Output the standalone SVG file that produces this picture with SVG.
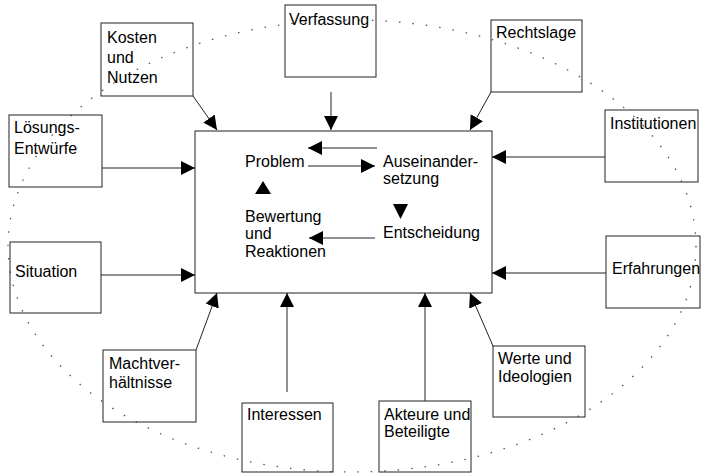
<svg xmlns="http://www.w3.org/2000/svg" width="702" height="475" viewBox="0 0 702 475">
<style>
text{font-family:"Liberation Sans",Arial,Helvetica,sans-serif;font-size:16px;fill:#000}
.box{fill:none;stroke:#222;stroke-width:1}
.c{fill:none;stroke:#222;stroke-width:1}
.ell{fill:none;stroke:#555;stroke-width:1.3;stroke-dasharray:1.5 12}
.tri{fill:#000}
</style>
<defs>
<marker id="ah" markerUnits="userSpaceOnUse" markerWidth="15" markerHeight="15" refX="14" refY="7" orient="auto">
<path d="M0,0 L14,7 L0,14 z" fill="#000"/>
</marker>
</defs>
<rect width="702" height="475" fill="#fff"/>
<ellipse class="ell" cx="352" cy="246" rx="344" ry="226"/>

<g id="zentrum">
<rect class="box" x="195" y="131" width="297" height="162"/>
<text x="245" y="167">Problem</text>
<text x="383" y="167">Auseinander-</text>
<text x="383" y="184">setzung</text>
<text x="245" y="222">Bewertung</text>
<text x="245" y="239">und</text>
<text x="245" y="257">Reaktionen</text>
<text x="383" y="238">Entscheidung</text>
</g>

<g id="kosten">
<rect class="box" x="101" y="23" width="92" height="73"/>
<text x="107" y="43">Kosten</text>
<text x="107" y="63">und</text>
<text x="107" y="83">Nutzen</text>
</g>
<g id="verfassung">
<rect class="box" x="285" y="5" width="91" height="72"/>
<text x="289" y="25">Verfassung</text>
</g>
<g id="rechtslage">
<rect class="box" x="491" y="20" width="91" height="72"/>
<text x="496" y="38">Rechtslage</text>
</g>
<g id="loesungen">
<rect class="box" x="9" y="115" width="93" height="72"/>
<text x="14" y="133">Lösungs-</text>
<text x="14" y="154">Entwürfe</text>
</g>
<g id="institutionen">
<rect class="box" x="605" y="110" width="93" height="72"/>
<text x="610" y="129">Institutionen</text>
</g>
<g id="situation">
<rect class="box" x="10" y="242" width="91" height="71"/>
<text x="15" y="277">Situation</text>
</g>
<g id="erfahrungen">
<rect class="box" x="606" y="236" width="94" height="72"/>
<text x="612" y="274">Erfahrungen</text>
</g>
<g id="macht">
<rect class="box" x="103" y="350" width="93" height="72"/>
<text x="109" y="369">Machtver-</text>
<text x="109" y="388">hältnisse</text>
</g>
<g id="interessen">
<rect class="box" x="242" y="403" width="91" height="69"/>
<text x="247" y="420">Interessen</text>
</g>
<g id="akteure">
<rect class="box" x="379" y="401" width="92" height="71"/>
<text x="384" y="420">Akteure und</text>
<text x="384" y="437">Beteiligte</text>
</g>
<g id="werte">
<rect class="box" x="493" y="346" width="92" height="71"/>
<text x="498" y="364">Werte und</text>
<text x="498" y="382">Ideologien</text>
</g>

<g id="connectors">
<line class="c" x1="193" y1="96" x2="217" y2="130" marker-end="url(#ah)"/>
<line class="c" x1="331" y1="92" x2="331" y2="130" marker-end="url(#ah)"/>
<line class="c" x1="491" y1="92" x2="470" y2="130" marker-end="url(#ah)"/>
<line class="c" x1="102" y1="168" x2="195" y2="168" marker-end="url(#ah)"/>
<line class="c" x1="605" y1="157" x2="492" y2="157" marker-end="url(#ah)"/>
<line class="c" x1="101" y1="275" x2="195" y2="275" marker-end="url(#ah)"/>
<line class="c" x1="606" y1="273" x2="492" y2="273" marker-end="url(#ah)"/>
<line class="c" x1="196" y1="350" x2="217" y2="293" marker-end="url(#ah)"/>
<line class="c" x1="287" y1="392" x2="287" y2="293" marker-end="url(#ah)"/>
<line class="c" x1="425" y1="401" x2="425" y2="293" marker-end="url(#ah)"/>
<line class="c" x1="493" y1="346" x2="470" y2="293" marker-end="url(#ah)"/>
<line class="c" x1="308" y1="166" x2="375" y2="166" marker-end="url(#ah)"/>
<line class="c" x1="377" y1="148" x2="308" y2="148" marker-end="url(#ah)"/>
<line class="c" x1="375" y1="238" x2="309" y2="238" marker-end="url(#ah)"/>
<polygon class="tri" points="393,204 408,204 400.5,219"/>
<polygon class="tri" points="255,194 271,194 263,181"/>
</g>
</svg>
